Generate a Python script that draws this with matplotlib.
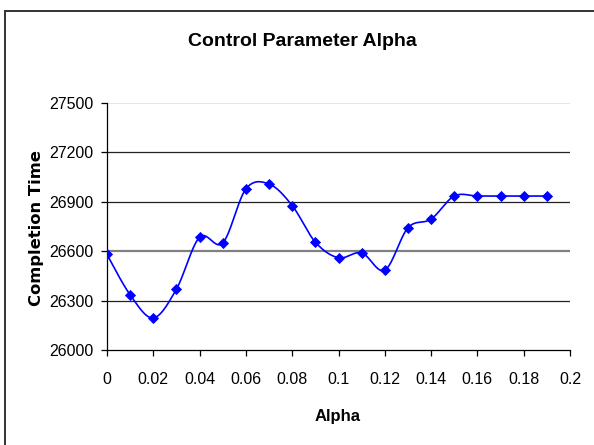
import numpy as np
import matplotlib
matplotlib.use("Agg")
import matplotlib.pyplot as plt
from matplotlib.patches import Rectangle
from matplotlib import font_manager

# Data
alpha = [0.00, 0.01, 0.02, 0.03, 0.04, 0.05, 0.06, 0.07, 0.08, 0.09,
         0.10, 0.11, 0.12, 0.13, 0.14, 0.15, 0.16, 0.17, 0.18, 0.19]
completion_time = [26580, 26335, 26195, 26370, 26685, 26650, 26978, 27008, 26877, 26655,
                   26560, 26590, 26485, 26742, 26795, 26935, 26935, 26935, 26935, 26935]
x_ticks = [0, 0.02, 0.04, 0.06, 0.08, 0.1, 0.12, 0.14, 0.16, 0.18, 0.2]
x_ticklabels = ["0", "0.02", "0.04", "0.06", "0.08", "0.1", "0.12", "0.14", "0.16", "0.18", "0.2"]
y_ticks = [26000, 26300, 26600, 26900, 27200, 27500]

plt.rcParams['font.family'] = ['Liberation Sans', 'DejaVu Sans']

# condensed title font if available
try:
    font_manager.findfont(font_manager.FontProperties(family='Liberation Sans Narrow', weight='bold'),
                          fallback_to_default=False)
    title_family, title_size = ['Liberation Sans Narrow'], 17
except Exception:
    title_family, title_size = ['Liberation Sans'], 14


def smooth(xs, ys, n=30):
    """Excel-style smoothed line (Catmull-Rom Bezier through the points)."""
    xs = np.asarray(xs, float)
    ys = np.asarray(ys, float)
    px = np.concatenate([[xs[0]], xs, [xs[-1]]])
    py = np.concatenate([[ys[0]], ys, [ys[-1]]])
    outx, outy = [], []
    t = np.linspace(0, 1, n)
    for i in range(1, len(px) - 2):
        p0x, p1x, p2x, p3x = px[i - 1], px[i], px[i + 1], px[i + 2]
        p0y, p1y, p2y, p3y = py[i - 1], py[i], py[i + 1], py[i + 2]
        c1x = p1x + (p2x - p0x) / 6
        c1y = p1y + (p2y - p0y) / 6
        c2x = p2x - (p3x - p1x) / 6
        c2y = p2y - (p3y - p1y) / 6
        bx = (1 - t) ** 3 * p1x + 3 * (1 - t) ** 2 * t * c1x + 3 * (1 - t) * t ** 2 * c2x + t ** 3 * p2x
        by = (1 - t) ** 3 * p1y + 3 * (1 - t) ** 2 * t * c1y + 3 * (1 - t) * t ** 2 * c2y + t ** 3 * p2y
        outx.extend(bx)
        outy.extend(by)
    return np.array(outx), np.array(outy)


fig = plt.figure(figsize=(5.94, 4.45), dpi=100)
ax = fig.add_axes([107 / 594, 1 - 350 / 445, (570 - 107) / 594, (350 - 103) / 445])

# chart border (left/top visible)
fig.patches.append(Rectangle((4.5 / 594, -0.2), 1.2, 1 - 10.5 / 445 + 0.2,
                             transform=fig.transFigure, fill=False,
                             edgecolor='#333333', linewidth=1.4, zorder=10))

ax.set_xlim(0, 0.2)
ax.set_ylim(26000, 27500)

# gridlines
grid_colors = {26300: '#222222', 26600: '#808080', 26900: '#222222', 27200: '#222222', 27500: '#e0e0e0'}
grid_widths = {26300: 0.9, 26600: 1.6, 26900: 0.9, 27200: 0.9, 27500: 1.2}
for yv in y_ticks[1:]:
    ax.axhline(yv, color=grid_colors[yv], linewidth=grid_widths[yv], zorder=1)

sx, sy = smooth(alpha, completion_time)
ax.plot(sx, sy, color='#0000ff', linewidth=1.2, zorder=3)
ax.plot(alpha, completion_time, linestyle='none', marker='D', markersize=5.0,
        color='#0000ff', markeredgecolor='#0000ff', markeredgewidth=0.6, zorder=4)

for s in ['top', 'right']:
    ax.spines[s].set_visible(False)
for s in ['left', 'bottom']:
    ax.spines[s].set_color('black')
    ax.spines[s].set_linewidth(0.9)

ax.set_xticks(x_ticks)
ax.set_xticklabels(x_ticklabels)
ax.set_yticks(y_ticks)
ax.set_yticklabels([str(v) for v in y_ticks])
ax.tick_params(axis='x', direction='out', length=4, width=0.9, pad=12, labelsize=11.5)
ax.tick_params(axis='y', direction='out', length=4, width=0.9, pad=6, labelsize=11.5)

fig.text(302 / 594, 1 - 41 / 445, 'Control Parameter Alpha', ha='center', va='center',
         fontsize=title_size, fontweight='bold', family=title_family)
fig.text(338 / 594, 1 - 416 / 445, 'Alpha', ha='center', va='center',
         fontsize=12, fontweight='bold')
fig.text(37 / 594, 1 - 228 / 445, 'Completion Time', ha='center', va='center',
         rotation=90, fontsize=11.8, fontweight='bold', family=['DejaVu Sans'])

fig.savefig('out.png', dpi=100)
